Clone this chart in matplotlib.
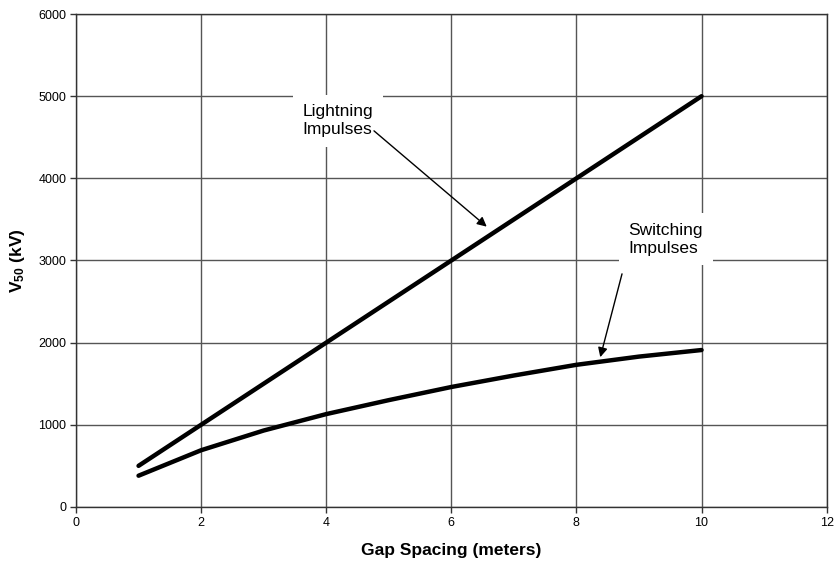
import numpy as np
import matplotlib.pyplot as plt

plt.rcParams['font.family'] = ['Liberation Sans', 'DejaVu Sans']
plt.rcParams['mathtext.fontset'] = 'custom'
plt.rcParams['mathtext.rm'] = 'Liberation Sans'
plt.rcParams['mathtext.bf'] = 'Liberation Sans:bold'

# data
gap = [1, 2, 3, 4, 5, 6, 7, 8, 9, 10]
lightning = [500, 1000, 1500, 2000, 2500, 3000, 3500, 4000, 4500, 5000]
switching = [380, 690, 930, 1130, 1300, 1460, 1600, 1730, 1830, 1910]

x_ticks = [0, 2, 4, 6, 8, 10, 12]
y_ticks = [0, 1000, 2000, 3000, 4000, 5000, 6000]

fig = plt.figure(figsize=(8.35, 5.62), dpi=100)
ax = fig.add_axes([0.091, 0.098, 0.899, 0.877])

ax.plot(gap, lightning, color='black', linewidth=3.2, solid_capstyle='round', zorder=4)
ax.plot(gap, switching, color='black', linewidth=3.2, solid_capstyle='round', zorder=4)

ax.set_xlim(0, 12)
ax.set_ylim(0, 6000)
ax.set_xticks(x_ticks)
ax.set_yticks(y_ticks)
ax.grid(True, color='#555555', linewidth=1)
ax.set_axisbelow(True)
for s in ax.spines.values():
    s.set_color('#333333')
    s.set_linewidth(1)
ax.tick_params(direction='out', length=4, width=1, color='#333333', labelsize=9, pad=3)

ax.set_xlabel('Gap Spacing (meters)', fontsize=12.5, fontweight='bold', labelpad=10)
ax.set_ylabel(r'$\mathbf{V_{50}}$ (kV)', fontsize=12.5, fontweight='bold', labelpad=8)

# labels with white boxes hiding the grid
box = dict(facecolor='white', edgecolor='none', pad=7)
ax.text(3.62, 4900, 'Lightning\nImpulses', fontsize=12.5, va='top', ha='left',
        bbox=box, zorder=3, linespacing=1.25)
ax.text(8.83, 3460, 'Switching\nImpulses', fontsize=12.5, va='top', ha='left',
        bbox=box, zorder=3, linespacing=1.25)

arrow = dict(arrowstyle='-|>', color='black', lw=1, mutation_scale=14)
ax.annotate('', xy=(6.6, 3390), xytext=(4.73, 4600), arrowprops=arrow, zorder=5)
ax.annotate('', xy=(8.37, 1790), xytext=(8.74, 2870), arrowprops=arrow, zorder=5)

plt.savefig('out.png', dpi=100)
